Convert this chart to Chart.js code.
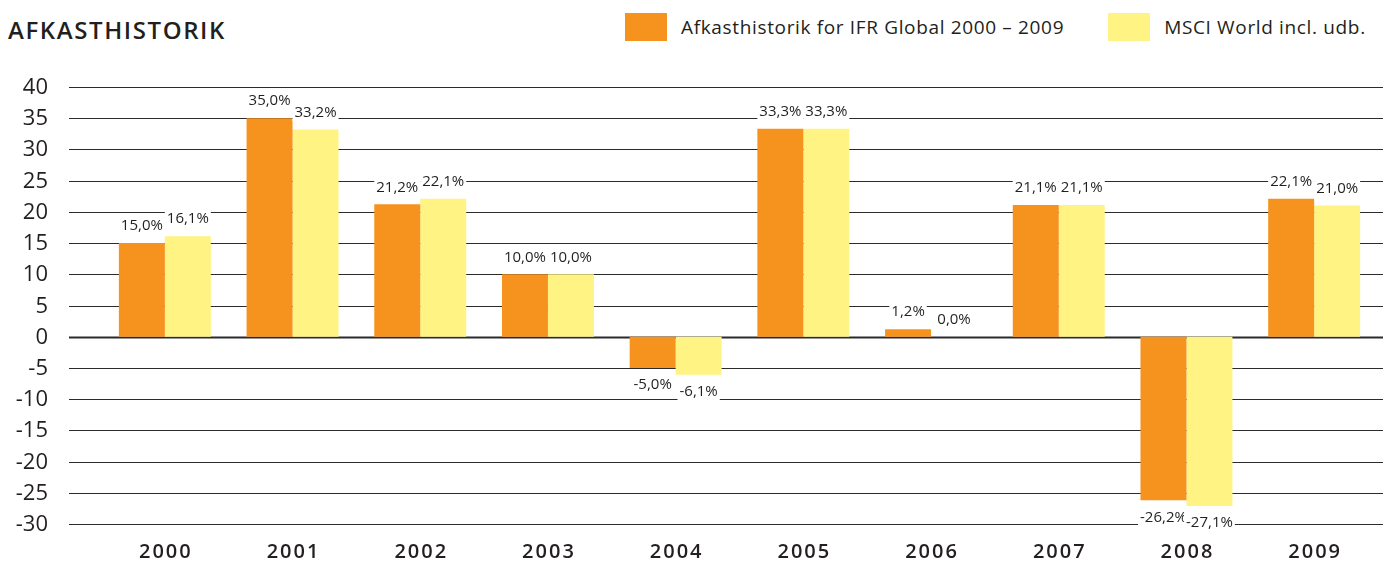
<!DOCTYPE html>
<html>
<head>
<meta charset="utf-8">
<script src="https://cdn.jsdelivr.net/npm/chart.js@4.4.1/dist/chart.umd.min.js"></script>
<style>
  html, body { margin: 0; padding: 0; background: #fff; }
  #wrap { position: relative; width: 1383px; height: 563px; font-family: "Open Sans", sans-serif; color: #231f20; }
  #title { position: absolute; left: 8px; top: 13px; font-size: 24px; font-weight: 600; letter-spacing: 1.6px; }
  #legend { position: absolute; top: 13px; left: 625px; display: flex; font-size: 19px; letter-spacing: 0.65px; white-space: nowrap; }
  .item { display: flex; align-items: center; margin-right: 44px; }
  .box { width: 42px; height: 28px; margin-right: 14px; }
  canvas { position: absolute; left: 0; top: 0; }
</style>
</head>
<body>
<div id="wrap">
  <div id="title">AFKASTHISTORIK</div>
  <div id="legend"></div>
  <canvas id="chart" width="1383" height="563"></canvas>
</div>
<script>
const years = ["2000", "2001", "2002", "2003", "2004", "2005", "2006", "2007", "2008", "2009"];
const ifrGlobal = [15.0, 35.0, 21.2, 10.0, -5.0, 33.3, 1.2, 21.1, -26.2, 22.1];
const msciWorld = [16.1, 33.2, 22.1, 10.0, -6.1, 33.3, 0.0, 21.1, -27.1, 21.0];
const seriesNames = ["Afkasthistorik for IFR Global 2000 – 2009", "MSCI World incl. udb."];
const seriesColors = ["#F6921E", "#FFF383"];

const textColor = "#231f20";
const lineColor = "#2b2b2b";
const fontFamily = "'Open Sans', sans-serif";

const legendEl = document.getElementById("legend");
seriesNames.forEach((name, i) => {
  const item = document.createElement("div");
  item.className = "item";
  item.innerHTML = `<span class="box" style="background:${seriesColors[i]}"></span><span>${name}</span>`;
  legendEl.appendChild(item);
});

function fmt(v) {
  return v.toFixed(1).replace(".", ",") + "%";
}

// grid lines across the full width + y tick labels, zero line a bit heavier
const gridPlugin = {
  id: "fullGrid",
  beforeDatasetsDraw(chart) {
    const { ctx, scales: { y } } = chart;
    ctx.save();
    ctx.font = "22px " + fontFamily;
    ctx.textAlign = "right";
    ctx.textBaseline = "middle";
    ctx.fillStyle = textColor;
    y.ticks.forEach((t) => {
      const py = Math.round(y.getPixelForValue(t.value)) + 0.5;
      ctx.beginPath();
      ctx.lineWidth = t.value === 0 ? 2 : 1.2;
      ctx.strokeStyle = lineColor;
      ctx.moveTo(69, py);
      ctx.lineTo(chart.width, py);
      ctx.stroke();
      ctx.fillText(String(t.value), 48, py);
    });
    ctx.restore();
  },
};

// value labels on a white patch, plus the year labels under the plot
const labelPlugin = {
  id: "valueLabels",
  afterDatasetsDraw(chart) {
    const { ctx, scales: { x } } = chart;
    ctx.save();
    ctx.font = "15px " + fontFamily;
    ctx.textAlign = "center";
    ctx.textBaseline = "middle";
    chart.data.datasets.forEach((ds, di) => {
      chart.getDatasetMeta(di).data.forEach((bar, i) => {
        const v = ds.data[i];
        const txt = fmt(v);
        const w = ctx.measureText(txt).width + 4;
        const cy = v >= 0 ? bar.y - 17 : bar.y + 17;
        ctx.fillStyle = "#fff";
        ctx.fillRect(bar.x - w / 2, cy - 9, w, 18);
        ctx.fillStyle = textColor;
        ctx.fillText(txt, bar.x, cy);
      });
    });
    ctx.font = "600 20px " + fontFamily;
    ctx.letterSpacing = "2px";
    ctx.fillStyle = textColor;
    years.forEach((yr, i) => {
      ctx.fillText(yr, x.getPixelForValue(i) + 1, chart.chartArea.bottom + 28);
    });
    ctx.restore();
  },
};

new Chart(document.getElementById("chart"), {
  type: "bar",
  data: {
    labels: years,
    datasets: [
      { label: seriesNames[0], data: ifrGlobal, backgroundColor: seriesColors[0], borderWidth: 0 },
      { label: seriesNames[1], data: msciWorld, backgroundColor: seriesColors[1], borderWidth: 0 },
    ],
  },
  options: {
    responsive: false,
    animation: false,
    layout: { padding: { top: 87, right: 5, bottom: 39, left: 0 } },
    plugins: { legend: { display: false }, tooltip: { enabled: false } },
    datasets: { bar: { categoryPercentage: 0.72, barPercentage: 1.0 } },
    scales: {
      x: {
        display: false,
      },
      y: {
        min: -30,
        max: 40,
        grid: { display: false },
        border: { display: false },
        ticks: { stepSize: 5, display: false },
        afterFit: (s) => { s.width = 101; },
      },
    },
  },
  plugins: [gridPlugin, labelPlugin],
});
</script>
</body>
</html>
